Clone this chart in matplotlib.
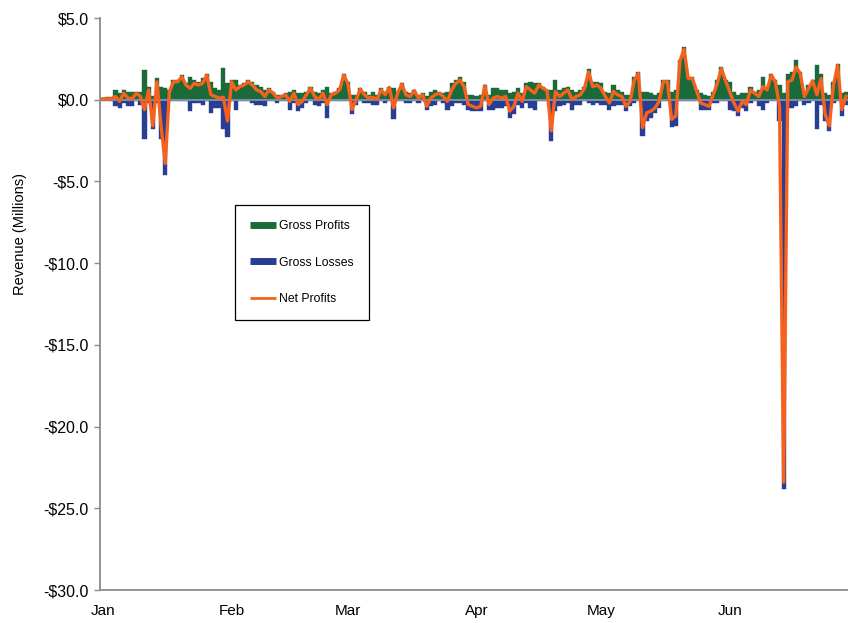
#!/usr/bin/python

"""
daily gross profits / gross losses as bars, net profits as a line, Jan - Jun.
"""

import numpy as np
import matplotlib
matplotlib.use("Agg")
import matplotlib.pyplot as plt
import matplotlib.dates as mdates
from matplotlib.lines import Line2D
from matplotlib.ticker import FuncFormatter, MultipleLocator

start = "2009-01-01"

# millions, one value per day from Jan 1
profits = [
  0.10, 0.15, 0.15, 0.60, 0.40, 0.60, 0.50, 0.45, 0.50, 0.50,
  1.80, 0.80, 0.20, 1.30, 0.80, 0.70, 0.60, 1.20, 1.20, 1.50,
  1.00, 1.40, 1.20, 1.10, 1.30, 1.60, 1.10, 0.70, 0.60, 1.95,
  1.00, 1.20, 1.20, 0.90, 1.00, 1.20, 1.10, 0.90, 0.80, 0.60,
  0.70, 0.50, 0.30, 0.30, 0.40, 0.50, 0.60, 0.40, 0.40, 0.50,
  0.80, 0.50, 0.40, 0.60, 0.80, 0.40, 0.50, 0.70, 1.60, 1.10,
  0.30, 0.30, 0.70, 0.50, 0.30, 0.45, 0.30, 0.70, 0.50, 0.80,
  0.70, 0.50, 1.00, 0.50, 0.40, 0.60, 0.30, 0.40, 0.20, 0.50,
  0.60, 0.50, 0.40, 0.50, 1.00, 1.20, 1.40, 1.10, 0.30, 0.30,
  0.20, 0.30, 0.90, 0.30, 0.70, 0.70, 0.60, 0.60, 0.40, 0.50,
  0.70, 0.40, 1.00, 1.10, 1.00, 1.00, 0.80, 0.60, 0.60, 1.20,
  0.60, 0.70, 0.80, 0.60, 0.50, 0.60, 0.80, 1.90, 1.10, 1.10,
  1.00, 0.50, 0.40, 0.90, 0.60, 0.50, 0.30, 0.30, 1.40, 1.70,
  0.50, 0.50, 0.40, 0.30, 0.40, 1.20, 1.20, 0.50, 0.60, 2.40,
  3.20, 1.40, 1.40, 0.60, 0.40, 0.30, 0.20, 0.50, 1.20, 2.00,
  1.20, 1.10, 0.50, 0.30, 0.40, 0.40, 0.80, 0.50, 0.60, 1.40,
  0.80, 1.60, 1.20, 0.90, 0.40, 1.60, 1.70, 2.40, 1.70, 0.50,
  0.90, 1.20, 2.10, 1.60, 0.40, 0.30, 1.10, 2.20, 0.40, 0.50,
]

losses = [
  -0.05, -0.10, -0.10, -0.40, -0.50, -0.20, -0.40, -0.40, -0.10, -0.30,
  -2.40, -0.20, -1.80, -0.20, -2.40, -4.60, -0.10, -0.10, -0.10, -0.10,
  -0.10, -0.70, -0.20, -0.20, -0.30, -0.10, -0.80, -0.50, -0.50, -1.80,
  -2.30, -0.10, -0.60, -0.10, -0.10, -0.10, -0.20, -0.30, -0.30, -0.40,
  -0.10, -0.10, -0.20, -0.10, -0.10, -0.60, -0.20, -0.70, -0.50, -0.20,
  -0.10, -0.30, -0.40, -0.20, -1.10, -0.10, -0.10, -0.10, -0.10, -0.10,
  -0.90, -0.30, -0.05, -0.20, -0.20, -0.30, -0.30, -0.10, -0.20, -0.05,
  -1.20, -0.10, -0.05, -0.20, -0.20, -0.05, -0.20, -0.10, -0.60, -0.40,
  -0.30, -0.10, -0.20, -0.60, -0.40, -0.20, -0.20, -0.30, -0.60, -0.70,
  -0.70, -0.70, -0.05, -0.60, -0.60, -0.50, -0.50, -0.40, -1.10, -0.90,
  -0.30, -0.50, -0.20, -0.50, -0.60, -0.10, -0.10, -0.05, -2.50, -0.70,
  -0.40, -0.30, -0.20, -0.60, -0.30, -0.30, -0.10, -0.20, -0.30, -0.20,
  -0.30, -0.30, -0.60, -0.40, -0.30, -0.30, -0.70, -0.40, -0.20, -0.10,
  -2.20, -1.30, -1.10, -0.80, -0.50, -0.10, -0.10, -1.70, -1.60, -0.05,
  -0.10, -0.10, -0.10, -0.05, -0.60, -0.60, -0.60, -0.20, -0.20, -0.10,
  -0.05, -0.60, -0.70, -1.00, -0.50, -0.70, -0.20, -0.10, -0.40, -0.60,
  -0.20, -0.10, -0.10, -1.30, -23.80, -0.50, -0.50, -0.40, -0.10, -0.30,
  -0.20, -0.05, -1.80, -0.30, -1.30, -1.90, -0.20, -0.10, -1.00, -0.30,
]

labels = ["Gross Profits", "Gross Losses", "Net Profits"]

green = "#1b6a3a"
blue = "#283e92"
orange = "#f6621d"


def money(v, pos):
  if v < 0:
    return "-\\$%.1f" % abs(v)
  return "\\$%.1f" % v


def main():
  plt.rcParams["font.family"] = ["Liberation Sans", "DejaVu Sans"]

  p = np.array(profits)
  l = np.array(losses)
  net = p + l
  d0 = np.datetime64(start)
  days = np.arange(d0, d0 + len(p))

  fig = plt.figure(figsize=(8.48, 6.23), dpi=100)
  ax = fig.add_axes([100/848, 33/623, 748/848, 572/623])

  ax.bar(days, p, width=1.0, color=green, edgecolor=green, lw=0.3, zorder=1)
  ax.bar(days, l, width=1.0, color=blue, edgecolor=blue, lw=0.3, zorder=1)
  ax.axhline(0, color="#8f9bb0", lw=1.2, zorder=2)
  ax.plot(days, net, color=orange, lw=2.4, zorder=3, solid_joinstyle="round")

  x0 = mdates.date2num(d0)
  ax.set_xlim(x0 - 0.72, x0 + 179.5)
  ax.set_ylim(-30, 5)
  ax.yaxis.set_major_locator(MultipleLocator(5))
  ax.yaxis.set_major_formatter(FuncFormatter(money))
  ax.xaxis.set_major_locator(mdates.MonthLocator())
  ax.xaxis.set_major_formatter(mdates.DateFormatter("%b"))

  for s in ["top", "right"]:
    ax.spines[s].set_visible(False)
  for s in ["left", "bottom"]:
    ax.spines[s].set_color("#8a8a8a")
    ax.spines[s].set_linewidth(1.3)

  ax.tick_params(axis="y", length=4, width=1, color="#8a8a8a", pad=4, labelsize=11.5)
  ax.tick_params(axis="x", length=0, pad=10, labelsize=11)

  ax.set_ylabel("Revenue (Millions)", fontsize=10.5)
  ax.yaxis.set_label_coords(-0.097, 0.622)

  hnd = [Line2D([], [], color=green, lw=5, solid_capstyle="butt"),
         Line2D([], [], color=blue, lw=5, solid_capstyle="butt"),
         Line2D([], [], color=orange, lw=2, solid_capstyle="butt")]
  leg = ax.legend(hnd, labels, loc="upper left", bbox_to_anchor=(0.1805, 0.673),
                  borderaxespad=0, fontsize=8.8, frameon=True, fancybox=False,
                  framealpha=1, edgecolor="black", handlelength=2.1,
                  handletextpad=0.25, labelspacing=2.0, borderpad=1.25)
  leg.get_frame().set_linewidth(0.9)

  fig.savefig("out.png", dpi=100)
  plt.close()


if __name__ == "__main__":
  main()
